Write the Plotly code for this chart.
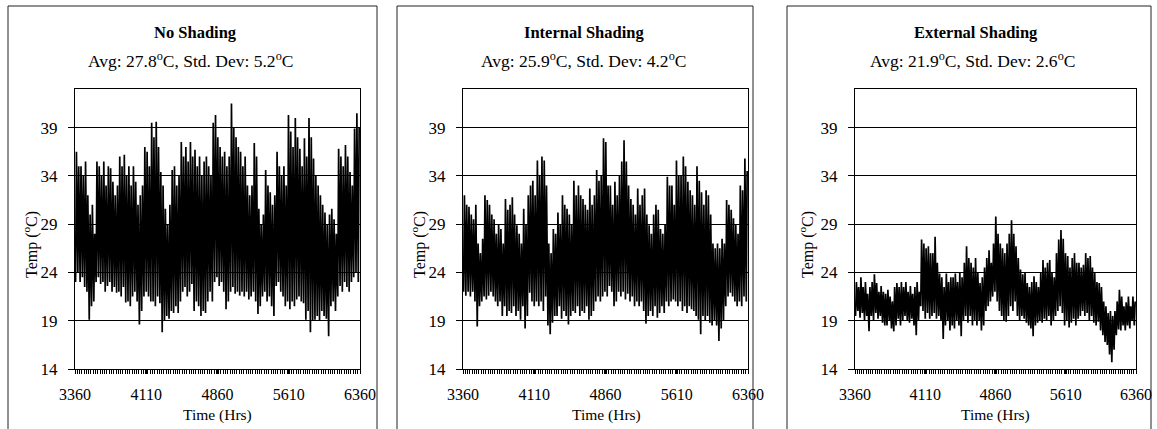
import numpy as np
import plotly.graph_objects as go

W, H = 1157, 429

# ---------------- data (daily highs / lows) -------------
start_hr = 3360
x_ticks = [3360, 4110, 4860, 5610, 6360]
y_ticks = [14, 19, 24, 29, 34, 39]

titles = ["No Shading", "Internal Shading", "External Shading"]
subtitles = ["Avg: 27.8<sup>o</sup>C, Std. Dev: 5.2<sup>o</sup>C",
             "Avg: 25.9<sup>o</sup>C, Std. Dev: 4.2<sup>o</sup>C",
             "Avg: 21.9<sup>o</sup>C, Std. Dev: 2.6<sup>o</sup>C"]

no_shading_high = [
    36.5, 35, 35, 34, 35.5, 32, 30, 31, 28, 35.5, 35, 34, 35.5, 33, 35, 34.8, 33.4, 32, 33, 36,
    35, 36.2, 34, 35, 33, 35, 33.4, 31, 32, 33, 37, 36.5, 35, 39.5, 38, 39.6, 37, 34.4, 33, 30.6,
    29, 31, 34.6, 35, 33, 34, 37.5, 36, 37, 35.5, 37.5, 36, 36.7, 35, 36, 34, 35.5, 36, 35, 34,
    39.5, 40.3, 38, 37, 36, 36.5, 35, 36, 41.5, 39, 38, 37, 36.5, 35, 36, 33, 32, 33, 37.4, 36,
    30.6, 29, 30, 34.6, 33, 32.3, 31, 32, 36.5, 35, 34, 35, 33, 40.3, 38.6, 37, 40, 38, 36.8, 35,
    37.9, 36, 40, 38, 35.8, 34, 33, 32, 31, 30.2, 29, 30, 30.6, 29.5, 28, 36.8, 36, 35, 37.2, 36,
    34.4, 33, 38.9, 40.5, 39]
no_shading_low = [
    23, 24, 23, 23.5, 22.5, 22, 19.1, 20.5, 21, 23, 23.5, 22.8, 23, 22, 22.6, 23, 22, 22.5, 21.9, 22,
    21.5, 22.5, 20.9, 21, 20.5, 21.5, 22, 21, 18.6, 20, 21.5, 22, 21.5, 21, 21, 20.5, 21.5, 20.8, 17.8, 19,
    19.5, 19.2, 20, 19.8, 20.5, 19.8, 21, 22, 22.5, 21.5, 22, 22.8, 20, 21, 20.5, 19.5, 20, 19.8, 21, 22,
    21, 23, 23.5, 22.6, 23, 22, 20.2, 21, 22, 22.5, 21.8, 22, 21.6, 22, 21.5, 22, 21.2, 21.5, 22, 21,
    19.7, 20.5, 21.5, 22, 21, 21.5, 20.5, 19.5, 22.6, 23, 22, 21.5, 20.5, 21, 20.2, 21, 20.5, 21.2, 21.5, 21,
    20.8, 19.1, 20, 17.8, 19, 19.1, 19.5, 19, 20, 19.5, 19.2, 17.4, 20.5, 21, 20, 21.5, 22.6, 22, 23, 22.5,
    22, 23, 23.5, 24, 23]

internal_high = [
    32, 31, 30.8, 30, 29.5, 31, 27, 26, 27.5, 32, 31.5, 31, 30, 29.5, 28, 29, 28.5, 27, 31.6, 30.5,
    31, 31.8, 30, 28.9, 28, 27, 30.6, 29, 32, 33, 33.5, 32, 35.6, 34, 36, 35.6, 33, 27, 26, 28.5,
    28, 30.2, 29, 32, 31, 30.6, 30, 29, 33.5, 32, 33, 32, 31.6, 31, 30.5, 32.7, 31, 32, 34.6, 33.5,
    34, 37.9, 37.5, 33, 33, 31, 33.4, 32, 34, 35.5, 37.7, 35.5, 33, 31.6, 31, 30, 32.7, 31, 32, 32.7,
    30, 28.9, 28, 30, 31, 30.5, 28.5, 28, 29, 33.9, 33, 33, 31, 35.6, 34, 34, 36, 35, 33.4, 32.5,
    32, 31, 35, 33.5, 32.3, 31, 32.5, 32, 30, 27, 26.5, 27, 26.5, 27.5, 27, 31.5, 31, 30.5, 29.6, 29,
    28, 33, 32.5, 35.8, 34.5]
internal_low = [
    22, 21.6, 22, 21.5, 22, 21, 18.4, 20.5, 21, 21.5, 21.2, 21.6, 22, 21.5, 21, 20.5, 21, 19.5, 20.5, 19.5,
    20, 19.8, 20.5, 19.5, 20, 19.1, 20.5, 18.2, 19.5, 21.9, 21, 20.5, 21, 20.5, 21, 20, 21.5, 18.5, 17.6, 18.8,
    19.5, 19.5, 20.5, 19.2, 20, 19.5, 18.6, 19.5, 20, 19.8, 20.5, 19.5, 20, 19.8, 20.5, 19.1, 19.5, 20, 21, 21.5,
    21, 21.5, 22, 21.5, 22.6, 22, 20.5, 21, 22, 21.5, 22, 21.2, 21.8, 21, 21.5, 20.5, 21, 20.5, 21, 20,
    18.7, 19.5, 20, 19.5, 20.5, 19.3, 19.8, 20.5, 19.8, 21, 20.5, 21, 21.2, 21, 20.5, 21, 20, 20.5, 19.8, 20.5,
    20.2, 20, 19.5, 19.1, 17.6, 19.5, 19, 19.5, 18.8, 18.5, 19, 18.5, 16.9, 18.2, 19, 20.5, 21.5, 21.9, 21.5, 21,
    20.5, 21, 20.5, 21.5, 21]

external_high = [
    23, 22.5, 23.5, 22.5, 23, 21.8, 22.5, 23, 23.8, 22.9, 22, 22.6, 22, 21.8, 22.2, 21.5, 21, 22.5, 22.9, 22.5,
    23, 22.5, 23, 22, 22.6, 21.8, 22.5, 23, 22, 27.4, 27, 26.5, 26.7, 26, 26, 27.7, 25, 23.9, 23.5, 22.5,
    23.9, 23, 23.5, 23.5, 23.9, 23, 24, 23.5, 25, 26.7, 25.5, 25, 24.5, 25.5, 24, 22.9, 23.5, 24.5, 25.5, 26.3,
    25, 27, 29.8, 28, 27, 26.5, 26, 27, 28, 29.4, 28, 26.7, 25.5, 24.3, 23.8, 24, 22.9, 22.5, 23, 23.6,
    23, 22.5, 24, 25.3, 24.5, 25, 25.3, 24, 23.5, 26, 27.4, 28.4, 27.5, 26, 25.7, 24.5, 25.5, 26, 25, 25,
    24.5, 24.8, 26, 25.5, 25.7, 24.5, 24, 23, 22.9, 22.5, 21, 20.5, 19.8, 20, 19.5, 20, 21, 22.2, 21.5, 20.5,
    20.9, 21.5, 20.5, 21.5, 21]
external_low = [
    19.5, 20, 19.3, 19.8, 19, 19.5, 17.9, 19.5, 19, 19.8, 19.2, 19.5, 18.8, 18.5, 18.5, 19, 18.2, 17.9, 18.5, 19.2,
    18.5, 19, 19.5, 19, 18.8, 19.2, 18.5, 17.5, 19, 20.5, 20, 19.2, 19.8, 19.2, 19.5, 19.8, 19.2, 19.5, 19, 17.1,
    18.5, 19, 18, 18.5, 18.2, 19, 18.5, 17.4, 19, 19.5, 18.8, 19.5, 18.5, 19, 18.5, 19, 18, 18.5, 20, 20.5,
    21, 21.5, 22, 21, 20, 19.5, 19, 18.9, 19.5, 20.5, 20, 21, 19.5, 19, 19.5, 19.2, 18.8, 18.5, 18.2, 17.4,
    18.5, 18.8, 19, 18.8, 19.2, 19, 19.5, 18.5, 19, 19.5, 20, 20.5, 19.8, 18.5, 19, 18.3, 18.8, 19.2, 18.5, 19.2,
    19.5, 20, 19.5, 19.8, 19, 19.5, 18.8, 18.5, 18.9, 18, 17.5, 16.8, 16.5, 15.5, 14.7, 16, 17.5, 18.1, 18, 18.5,
    18, 18.5, 18.2, 19, 18.5]

series = [(no_shading_high, no_shading_low),
          (internal_high, internal_low),
          (external_high, external_low)]

# ---------------- layout geometry (pixels) ----------------
plot_x = [(75, 360), (463, 748), (855, 1136)]
plot_top, plot_bot = 89, 369
boxes = [(8, 377), (397, 753), (787, 1151)]
title_cx = [195, 584, 976]
sub_cx = [190, 583, 972]
xt_cx = [217, 606, 995]
yt_cx = [30, 418, 806]

def px(v):
    return v / W

def py(v):
    return 1 - v / H

fig = go.Figure()
FONT = "Liberation Serif, Times New Roman, serif"

for k, (hi, lo) in enumerate(series):
    n = min(len(hi), len(lo))
    days = np.arange(n)
    xs = np.empty(2 * n)
    ys = np.empty(2 * n)
    xs[0::2] = start_hr + 24 * days + 6
    xs[1::2] = start_hr + 24 * days + 15
    ys[0::2] = np.array(lo[:n])
    ys[1::2] = np.array(hi[:n])
    ax = "" if k == 0 else str(k + 1)
    fig.add_trace(go.Scatter(x=xs, y=ys, mode="lines",
                             line=dict(color="black", width=1.7),
                             xaxis="x" + ax, yaxis="y" + ax,
                             showlegend=False, hoverinfo="skip"))
    x0, x1 = plot_x[k]
    fig.layout["xaxis" + ax] = dict(
        domain=[px(x0), px(x1)], range=[3360, 6360], anchor="y" + ax, automargin=False,
        tickvals=x_ticks, ticktext=[str(t) for t in x_ticks],
        ticks="outside", ticklen=4, tickcolor="black",
        minor=dict(dtick=24, tick0=3360, ticks="outside", ticklen=4, tickcolor="black", showgrid=False),
        showgrid=False, zeroline=False, showline=True, linecolor="black", linewidth=1, mirror=True,
        tickfont=dict(family=FONT, size=16, color="black"), ticklabelstandoff=7)
    fig.layout["yaxis" + ax] = dict(
        domain=[py(plot_bot), py(plot_top)], range=[14, 43], anchor="x" + ax, automargin=False,
        tickvals=y_ticks, ticks="outside", ticklen=6, tickcolor="black",
        showgrid=True, gridcolor="black", gridwidth=1, zeroline=False,
        showline=True, linecolor="black", linewidth=1, mirror=True,
        tickfont=dict(family=FONT, size=17, color="black"), ticklabelstandoff=7)

    bx0, bx1 = boxes[k]
    fig.add_shape(type="rect", xref="paper", yref="paper",
                  x0=px(bx0), x1=px(bx1), y0=-0.05, y1=py(6),
                  line=dict(color="#222", width=1), fillcolor="rgba(0,0,0,0)", layer="below")
    common = dict(xref="paper", yref="paper", showarrow=False,
                  xanchor="center", yanchor="middle")
    fig.add_annotation(text="<b>" + titles[k] + "</b>", x=px(title_cx[k]), y=py(33),
                       font=dict(family=FONT, size=16.5, color="black"), **common)
    fig.add_annotation(text=subtitles[k], x=px(sub_cx[k]), y=py(60),
                       font=dict(family=FONT, size=17.5, color="black"), **common)
    fig.add_annotation(text="Time (Hrs)", x=px(xt_cx[k]), y=py(415),
                       font=dict(family=FONT, size=15.5, color="black"), **common)
    fig.add_annotation(text="Temp (<sup>o</sup>C)", x=px(yt_cx[k]), y=py(245), textangle=-90,
                       font=dict(family=FONT, size=16, color="black"), **common)

fig.update_layout(width=W, height=H, margin=dict(l=0, r=0, t=0, b=0),
                  paper_bgcolor="white", plot_bgcolor="white")
fig.write_html("out.html", config={"displayModeBar": False},
               post_script="document.body.style.margin='0px';document.body.style.overflow='hidden';")
